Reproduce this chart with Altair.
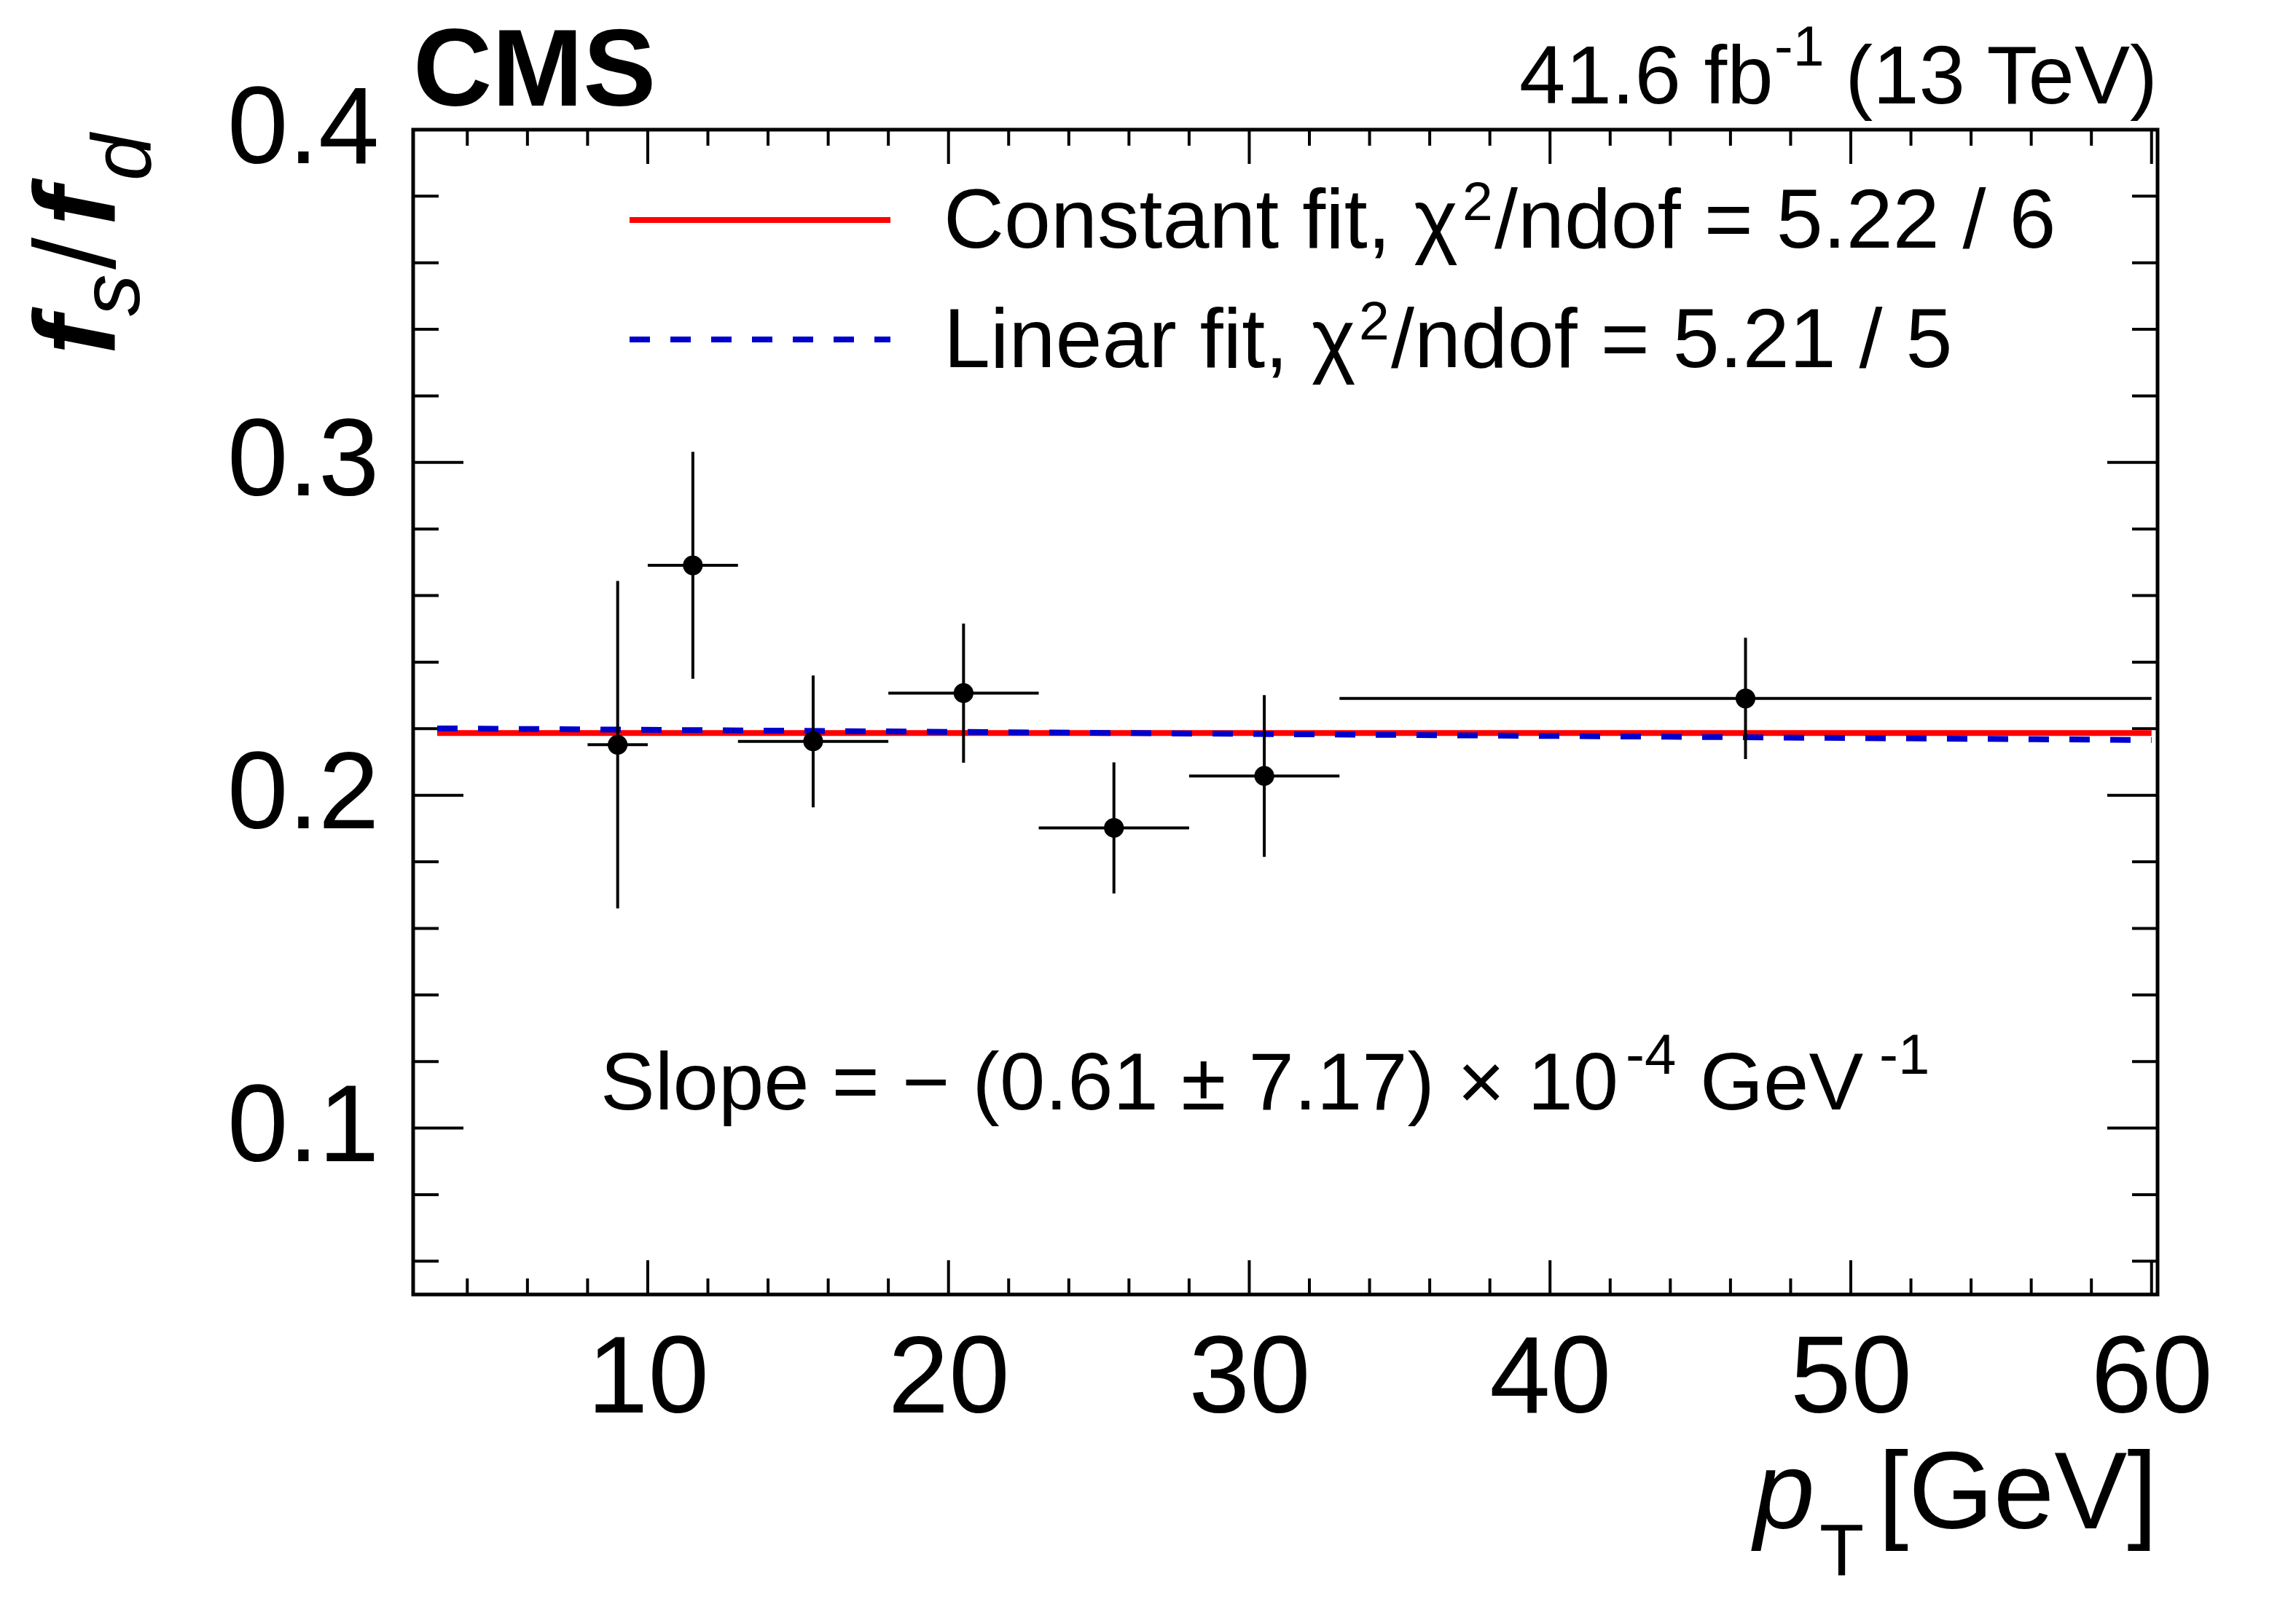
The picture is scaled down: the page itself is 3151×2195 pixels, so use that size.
import altair as alt
import pandas as pd

# ---- data ----
pt_center = [9.0, 11.5, 15.5, 20.5, 25.5, 30.5, 46.5]
pt_lo = [8, 10, 13, 18, 23, 28, 33]
pt_hi = [10, 13, 18, 23, 28, 33, 60]
fsfd = [0.2152, 0.2691, 0.2162, 0.2307, 0.1902, 0.2058, 0.2291]
fsfd_err = [0.0492, 0.0341, 0.0198, 0.0209, 0.0197, 0.0243, 0.0182]

const_x = [3, 60]
const_y = [0.2187, 0.2187]
lin_x = [3, 60]
lin_y = [0.2201, 0.2166]

x_major = [10, 20, 30, 40, 50, 60]
x_minor = [4, 6, 8, 12, 14, 16, 18, 22, 24, 26, 28, 32, 34, 36, 38,
           42, 44, 46, 48, 52, 54, 56, 58]
y_major = [0.1, 0.2, 0.3, 0.4]
y_minor = [0.06, 0.08, 0.12, 0.14, 0.16, 0.18, 0.22, 0.24, 0.26, 0.28,
           0.32, 0.34, 0.36, 0.38]

x_domain = [2.2, 60.2]
y_domain = [0.05, 0.4]

# ---- layout ----
W, H = 2394, 1599
FONT = "Liberation Sans"

XS = alt.Scale(domain=x_domain, nice=False, zero=False)
YS = alt.Scale(domain=y_domain, nice=False, zero=False)
xax = alt.Axis(values=x_major, format="d", title=None)
yax = alt.Axis(values=y_major, format=".1f", title=None)

df = pd.DataFrame({"pt": pt_center, "lo": pt_lo, "hi": pt_hi,
                   "v": fsfd, "e": fsfd_err})
df["vlo"] = df["v"] - df["e"]
df["vhi"] = df["v"] + df["e"]

layers = []

# ticks (inside, on all four sides)
def xticks(vals, length):
    d = alt.Chart(pd.DataFrame({"t": vals}))
    bot = d.mark_rule(color="black", strokeWidth=4).encode(
        x=alt.X("t:Q", scale=XS, axis=xax), y=alt.value(H), y2=alt.value(H - length))
    top = d.mark_rule(color="black", strokeWidth=4).encode(
        x=alt.X("t:Q", scale=XS, axis=xax), y=alt.value(0), y2=alt.value(length))
    return [bot, top]

def yticks(vals, length):
    d = alt.Chart(pd.DataFrame({"t": vals}))
    left = d.mark_rule(color="black", strokeWidth=4).encode(
        y=alt.Y("t:Q", scale=YS, axis=yax), x=alt.value(0), x2=alt.value(length))
    right = d.mark_rule(color="black", strokeWidth=4).encode(
        y=alt.Y("t:Q", scale=YS, axis=yax), x=alt.value(W - length), x2=alt.value(W))
    return [left, right]

layers += xticks(x_major, 47) + xticks(x_minor, 22)
layers += yticks(y_major, 69) + yticks(y_minor, 35)

# fit lines
const_line = alt.Chart(pd.DataFrame({"x": const_x, "y": const_y})).mark_line(
    color="#ff0000", strokeWidth=8).encode(
    x=alt.X("x:Q", scale=XS, axis=xax), y=alt.Y("y:Q", scale=YS, axis=yax))
lin_line = alt.Chart(pd.DataFrame({"x": lin_x, "y": lin_y})).mark_line(
    color="#0000cc", strokeWidth=8, strokeDash=[28, 28]).encode(
    x=alt.X("x:Q", scale=XS, axis=xax), y=alt.Y("y:Q", scale=YS, axis=yax))
layers += [const_line, lin_line]

# data with error bars
base = alt.Chart(df)
xerr = base.mark_rule(color="black", strokeWidth=4).encode(
    x=alt.X("lo:Q", scale=XS, axis=xax), x2="hi:Q",
    y=alt.Y("v:Q", scale=YS, axis=yax))
yerr = base.mark_rule(color="black", strokeWidth=4).encode(
    x=alt.X("pt:Q", scale=XS, axis=xax),
    y=alt.Y("vlo:Q", scale=YS, axis=yax), y2="vhi:Q")
pts = base.mark_point(filled=True, shape="circle", size=740, color="black",
                      opacity=1).encode(
    x=alt.X("pt:Q", scale=XS, axis=xax), y=alt.Y("v:Q", scale=YS, axis=yax))
layers += [xerr, yerr, pts]


def txt(s, x, y, size, weight="normal", style="normal", align="left", angle=0):
    return alt.Chart(pd.DataFrame({"s": [s]})).mark_text(
        font=FONT, fontSize=size, fontWeight=weight, fontStyle=style,
        align=align, baseline="alphabetic", angle=angle, color="black",
        limit=0).encode(
        x=alt.value(x), y=alt.value(y), text="s:N")


# legend symbols
leg_red = alt.Chart(pd.DataFrame({"a": [0]})).mark_rule(
    color="#ff0000", strokeWidth=8).encode(
    x=alt.value(297), x2=alt.value(655), y=alt.value(124))
leg_blue = alt.Chart(pd.DataFrame({"a": [0]})).mark_rule(
    color="#0000cc", strokeWidth=8, strokeDash=[28, 28]).encode(
    x=alt.value(297), x2=alt.value(655), y=alt.value(288))
layers += [leg_red, leg_blue]

texts = [
    # header
    txt("CMS", 0, -33, 150, weight="bold"),
    txt("41.6 fb", 1518, -36, 114),
    txt("-1", 1868, -88, 77),
    txt("(13 TeV)", W, -36, 114, align="right"),
    # legend
    txt("Constant fit, χ", 728, 162, 115),
    txt("2", 1440, 124, 75),
    txt("/ndof = 5.22 / 6", 1484, 162, 115),
    txt("Linear fit, χ", 728, 326, 115),
    txt("2", 1298, 288, 75),
    txt("/ndof = 5.21 / 5", 1342, 326, 115),
    # slope
    txt("Slope = − (0.61 ± 7.17) × 10", 257, 1345, 112),
    txt("-4", 1664, 1296, 78),
    txt("GeV", 1766, 1345, 112),
    txt("-1", 2012, 1296, 78),
    # x-axis title
    txt("p", 1840, 1920, 150, style="italic"),
    txt("T", 1930, 1984, 100),
    txt("[GeV]", W, 1920, 150, align="right"),
    # y-axis title (rotated)
    txt("f", -410, 309, 158, weight="bold", style="italic", angle=270),
    txt("s", -376, 256, 115, style="italic", angle=270),
    txt("/", -410, 192, 158, angle=270),
    txt("f", -410, 132, 158, weight="bold", style="italic", angle=270),
    txt("d", -360, 70, 115, style="italic", angle=270),
]
layers += texts

chart = alt.layer(*layers).properties(
    width=W, height=H,
    autosize=alt.AutoSizeParams(type="none"),
    padding={"left": 559, "top": 170, "right": 182, "bottom": 416},
    background="white",
).configure_view(
    stroke="black", strokeWidth=5
).configure_axis(
    labelFont=FONT, labelFontSize=150, labelColor="black",
    ticks=False, tickSize=0, domain=False, grid=False,
    labelFlush=False, labelOverlap=False, labelLimit=0,
).configure_axisX(
    labelPadding=42
).configure_axisY(
    labelPadding=47
)

chart.save("out.html", embed_options={"renderer": "svg", "actions": False})
